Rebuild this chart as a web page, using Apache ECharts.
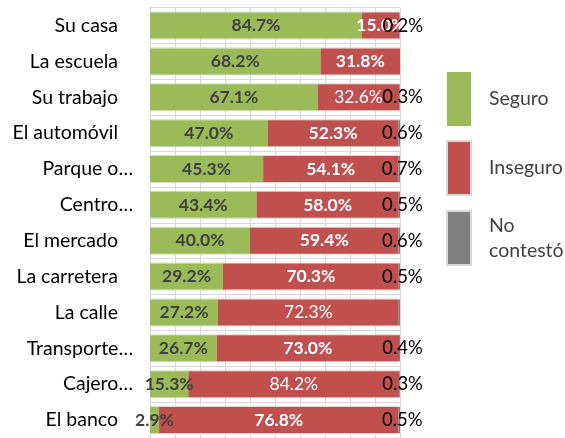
<!DOCTYPE html>
<html>
<head>
<meta charset="utf-8">
<script src="https://cdn.jsdelivr.net/npm/echarts@6/dist/echarts.min.js"></script>
<style>
  html, body { margin: 0; padding: 0; background: #fff; }
  #chart { width: 565px; height: 438px; }
</style>
</head>
<body>
<div id="chart"></div>
<script>
// Percepción de seguridad por lugar (porcentaje de respuestas)
const categories = ['Su casa', 'La escuela', 'Su trabajo', 'El automóvil', 'Parque o…', 'Centro…',
                    'El mercado', 'La carretera', 'La calle', 'Transporte…', 'Cajero…', 'El banco'];
const seguro     = [84.7, 68.2, 67.1, 47.0, 45.3, 43.4, 40.0, 29.2, 27.2, 26.7, 15.3, 2.9];
const inseguro   = [15.0, 31.8, 32.6, 52.3, 54.1, 58.0, 59.4, 70.3, 72.3, 73.0, 84.2, 76.8];
const noContesto = [0.2, 0, 0.3, 0.6, 0.7, 0.5, 0.6, 0.5, 0.5, 0.4, 0.3, 0.5];
const seriesNames = ['Seguro', 'Inseguro', 'No contestó'];
const valueTicks = { min: 0, max: 100, interval: 10 };

// Rows whose "No contestó" value is drawn without a label
const unlabeledNoContesto = ['La calle'];
// Rows whose "Inseguro" label uses regular weight
const regularInseguro = ['Su trabajo', 'La calle', 'Cajero…'];

const FONT = 'Lato, "Open Sans", sans-serif';
const BAR_WIDTH = 26;
const GRID_LINE = '#d9d9d9';
const LABEL_SIZE = 17.5;

// 100% stacked: each row is scaled to its own total, labels keep the answered values
const totals = categories.map((c, i) => seguro[i] + inseguro[i] + noContesto[i]);
const share = (arr) => arr.map((v, i) => ({ value: v / totals[i] * 100, raw: v }));
const fmt = (v) => v.toFixed(1) + '%';

const seguroData = share(seguro);
const inseguroData = share(inseguro).map((d, i) => ({
  value: d.value, raw: d.raw,
  label: { fontWeight: regularInseguro.includes(categories[i]) ? 'normal' : 'bold' }
}));
const noContestoData = share(noContesto).map((d, i) => ({
  value: d.value, raw: d.raw,
  label: { show: d.raw > 0 && !unlabeledNoContesto.includes(categories[i]) }
}));

const chart = echarts.init(document.getElementById('chart'), null, { renderer: 'canvas' });

chart.setOption({
  animation: false,
  backgroundColor: '#ffffff',
  textStyle: { fontFamily: FONT },
  grid: { left: 150, right: 165, top: 7.6, bottom: -7.4, containLabel: false },
  xAxis: {
    type: 'value',
    min: valueTicks.min, max: valueTicks.max, interval: valueTicks.interval,
    axisLabel: { show: false },
    axisLine: { show: false },
    axisTick: { show: false },
    splitLine: { show: true, lineStyle: { color: GRID_LINE, width: 1 } }
  },
  yAxis: {
    type: 'category',
    data: categories,
    inverse: true,
    axisLine: { show: false },
    axisTick: { show: false },
    splitLine: { show: true, lineStyle: { color: GRID_LINE, width: 1 } },
    axisLabel: {
      margin: 17,
      color: '#000000',
      fontFamily: FONT,
      fontSize: 19.5,
      formatter: (v) => v.endsWith('…') ? '{e|' + v + '}' : '{n|' + v + '}',
      rich: {
        n: { fontFamily: FONT, fontSize: 19.5, color: '#000000', padding: [0, 15, 0, 0] },
        e: { fontFamily: FONT, fontSize: 19.5, color: '#000000' }
      }
    }
  },
  legend: {
    orient: 'vertical',
    left: 446,
    top: 72,
    padding: 0,
    itemWidth: 24,
    itemHeight: 54,
    itemGap: 14,
    icon: 'rect',
    selectedMode: false,
    data: [
      { name: 'Seguro' },
      { name: 'Inseguro', itemStyle: { borderColor: '#d9d9d9', borderWidth: 2 } },
      { name: 'No contestó', itemStyle: { borderColor: '#d9d9d9', borderWidth: 2 } }
    ],
    formatter: (name) => name === 'No contestó' ? 'No\ncontestó' : name,
    textStyle: {
      fontFamily: FONT, fontSize: 19.5, lineHeight: 25, color: '#404040',
      padding: [0, 0, 6, 13]
    }
  },
  series: [
    {
      // light rules along the top and bottom edges of every bar
      type: 'custom',
      name: 'bordes',
      z: 1,
      silent: true,
      encode: { x: 0, y: 1 },
      data: categories.map((c, i) => [0, i]),
      renderItem: (params, api) => {
        const idx = api.value(1);
        const a = api.coord([valueTicks.min, idx]);
        const b = api.coord([valueTicks.max, idx]);
        const h = BAR_WIDTH / 2 + 0.5;
        const line = (y) => ({
          type: 'line',
          shape: { x1: a[0], y1: y, x2: b[0], y2: y },
          style: { stroke: GRID_LINE, lineWidth: 1 }
        });
        return { type: 'group', children: [line(a[1] - h), line(a[1] + h)] };
      }
    },
    {
      name: seriesNames[0],
      type: 'bar',
      stack: 'total',
      barWidth: BAR_WIDTH,
      z: 2,
      itemStyle: { color: '#9BBB59' },
      label: {
        show: true, position: 'inside',
        fontFamily: FONT, fontSize: LABEL_SIZE, fontWeight: 'bold', color: '#404040',
        formatter: (p) => fmt(p.data.raw)
      },
      data: seguroData
    },
    {
      name: seriesNames[1],
      type: 'bar',
      stack: 'total',
      barWidth: BAR_WIDTH,
      z: 2,
      itemStyle: { color: '#C0504D' },
      label: {
        show: true, position: 'inside',
        fontFamily: FONT, fontSize: LABEL_SIZE, fontWeight: 'bold', color: '#ffffff',
        formatter: (p) => fmt(p.data.raw)
      },
      data: inseguroData
    },
    {
      name: seriesNames[2],
      type: 'bar',
      stack: 'total',
      barWidth: BAR_WIDTH,
      z: 2,
      itemStyle: { color: '#808080' },
      label: {
        show: true, position: 'inside', offset: [3, 0],
        fontFamily: FONT, fontSize: 18.5, fontWeight: 'normal', color: '#000000',
        formatter: (p) => fmt(p.data.raw)
      },
      data: noContestoData
    }
  ]
});
</script>
</body>
</html>
